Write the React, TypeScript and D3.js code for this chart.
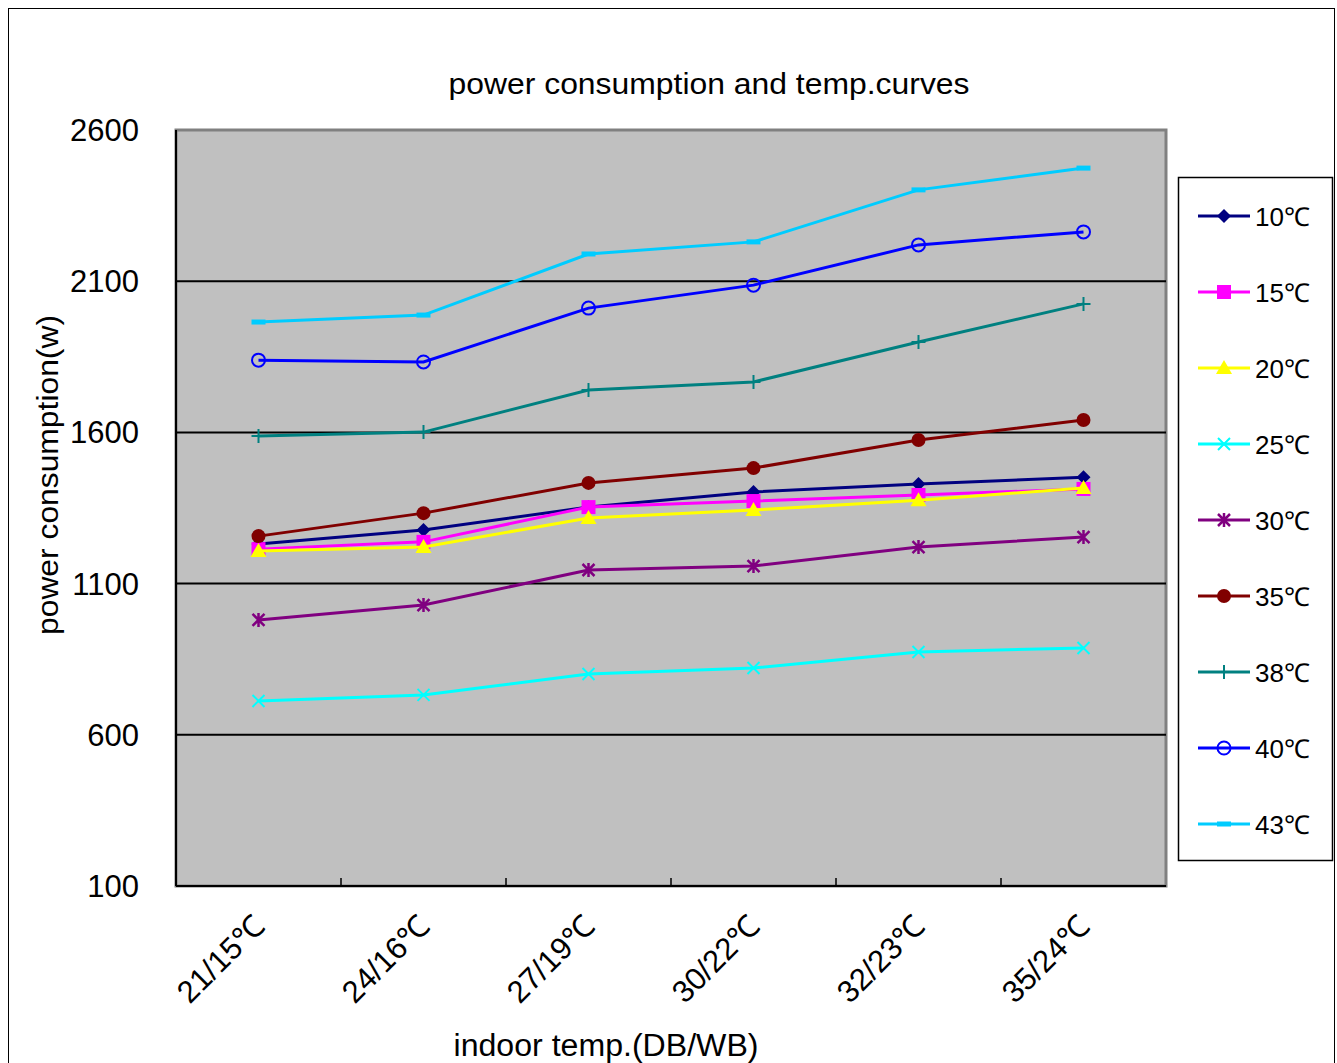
import React from "react";
import * as d3 from "d3";

const categories = ["21/15℃", "24/16℃", "27/19℃", "30/22℃", "32/23℃", "35/24℃"];
const seriesNames = ["10℃", "15℃", "20℃", "25℃", "30℃", "35℃", "38℃", "40℃", "43℃"];
const s10 = [1231, 1277, 1353, 1403, 1429, 1452];
const s15 = [1214, 1238, 1353, 1373, 1393, 1413];
const s20 = [1208, 1221, 1317, 1343, 1376, 1416];
const s25 = [712, 732, 801, 821, 874, 887];
const s30 = [980, 1029, 1145, 1158, 1221, 1254];
const s35 = [1257, 1333, 1433, 1482, 1575, 1641];
const s38 = [1588, 1601, 1740, 1767, 1899, 2025];
const s40 = [1839, 1833, 2011, 2087, 2220, 2263];
const s43 = [1965, 1988, 2190, 2230, 2402, 2474];
const yTicks = [100, 600, 1100, 1600, 2100, 2600];
const colors = ["#000080", "#FF00FF", "#FFFF00", "#00FFFF", "#800080", "#800000", "#008080", "#0000FF", "#00CCFF"];
const markers = ["diamond", "square", "triangle", "x", "asterisk", "dot", "plus", "circle", "dash"];
const allSeries = [s10, s15, s20, s25, s30, s35, s38, s40, s43];

const FONT = "'Liberation Sans', Arial, sans-serif";

function Marker({ type, x, y, color }: { type: string; x: number; y: number; color: string }) {
  switch (type) {
    case "diamond":
      return <path d={`M${x},${y - 7}L${x + 7},${y}L${x},${y + 7}L${x - 7},${y}Z`} fill={color} />;
    case "square":
      return <rect x={x - 7} y={y - 7} width={14} height={14} fill={color} />;
    case "triangle":
      return <path d={`M${x},${y - 8}L${x + 8},${y + 6}L${x - 8},${y + 6}Z`} fill={color} />;
    case "x":
      return <path d={`M${x - 6},${y - 6}L${x + 6},${y + 6}M${x - 6},${y + 6}L${x + 6},${y - 6}`} stroke={color} strokeWidth={2} />;
    case "asterisk":
      return (
        <path
          d={`M${x - 6},${y - 6}L${x + 6},${y + 6}M${x - 6},${y + 6}L${x + 6},${y - 6}M${x},${y - 7}L${x},${y + 7}`}
          stroke={color}
          strokeWidth={2.5}
        />
      );
    case "dot":
      return <circle cx={x} cy={y} r={7} fill={color} />;
    case "plus":
      return <path d={`M${x - 7},${y}L${x + 7},${y}M${x},${y - 7}L${x},${y + 7}`} stroke={color} strokeWidth={2} />;
    case "circle":
      return <circle cx={x} cy={y} r={6.5} fill="none" stroke={color} strokeWidth={2} />;
    case "dash":
      return <rect x={x - 7} y={y - 2.5} width={14} height={5} fill={color} />;
    default:
      return null;
  }
}

export default function App() {
  const W = 1337, H = 1063;
  const left = 176, right = 1166, top = 130, bottom = 886;
  const x = d3.scaleBand<string>().domain(categories).range([left, right]);
  const y = d3.scaleLinear().domain([100, 2600]).range([bottom, top]);
  const line = d3
    .line<number>()
    .x((_, i) => (x(categories[i]) as number) + x.bandwidth() / 2)
    .y((d) => y(d));

  const legendX = 1178, legendY = 177, legendW = 154, legendH = 683;

  return (
    <svg width={W} height={H} style={{ position: "absolute", left: 0, top: 0, background: "#fff" }} fontFamily={FONT}>
      <rect x={8.5} y={8.5} width={1326} height={1070} fill="#fff" stroke="#000" strokeWidth={1} />
      <text x={709} y={94} textAnchor="middle" fontSize={30} textLength={521} lengthAdjust="spacingAndGlyphs" fill="#000">
        power consumption and temp.curves
      </text>
      {/* plot area */}
      <rect x={left} y={top} width={right - left} height={bottom - top} fill="#C0C0C0" stroke="#808080" strokeWidth={3} />
      {yTicks.slice(1, -1).map((t) => (
        <line key={t} x1={left} x2={right} y1={y(t)} y2={y(t)} stroke="#000" strokeWidth={2} />
      ))}
      <line x1={left} x2={left} y1={top} y2={bottom} stroke="#000" strokeWidth={2} />
      <line x1={left} x2={right} y1={bottom} y2={bottom} stroke="#000" strokeWidth={2} />
      {categories.slice(1).map((c) => (
        <line key={c} x1={x(c)} x2={x(c)} y1={bottom} y2={bottom - 8} stroke="#000" strokeWidth={1.5} />
      ))}
      {yTicks.map((t) => (
        <text key={t} x={139} y={y(t) + 11} textAnchor="end" fontSize={31} fill="#000">
          {t}
        </text>
      ))}
      {categories.map((c) => {
        const cx = (x(c) as number) + x.bandwidth() / 2;
        return (
          <text key={c} transform={`translate(${cx + 8},${bottom + 42}) rotate(-45)`} textAnchor="end" fontSize={31} fill="#000">
            {c}
          </text>
        );
      })}
      <text x={606} y={1056} textAnchor="middle" fontSize={31} textLength={305} lengthAdjust="spacingAndGlyphs" fill="#000">
        indoor temp.(DB/WB)
      </text>
      <text transform={`translate(58,${475}) rotate(-90)`} textAnchor="middle" fontSize={30} textLength={320} lengthAdjust="spacingAndGlyphs" fill="#000">
        power consumption(w)
      </text>
      {/* series */}
      {allSeries.map((s, si) => (
        <g key={si}>
          <path d={line(s) || ""} fill="none" stroke={colors[si]} strokeWidth={3} />
          {s.map((v, i) => (
            <Marker key={i} type={markers[si]} x={(x(categories[i]) as number) + x.bandwidth() / 2} y={y(v)} color={colors[si]} />
          ))}
        </g>
      ))}
      {/* legend */}
      <rect x={legendX + 0.5} y={legendY + 0.5} width={legendW} height={legendH} fill="#fff" stroke="#000" strokeWidth={1.5} />
      {seriesNames.map((n, i) => {
        const ly = 216 + i * 76;
        return (
          <g key={n}>
            <line x1={1198} x2={1250} y1={ly} y2={ly} stroke={colors[i]} strokeWidth={3} />
            <Marker type={markers[i]} x={1224} y={ly} color={colors[i]} />
            <text x={1255} y={ly + 10} fontSize={26} fill="#000">
              {n}
            </text>
          </g>
        );
      })}
    </svg>
  );
}
